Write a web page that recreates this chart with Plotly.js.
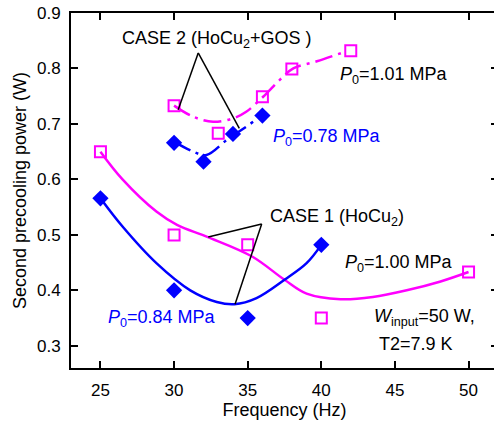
<!DOCTYPE html>
<html>
<head>
<meta charset="utf-8">
<script src="https://cdn.plot.ly/plotly-3.0.1.min.js"></script>
<style>
html, body { margin: 0; padding: 0; overflow: hidden; background: #fff; }
#chart { width: 500px; height: 423px; }
</style>
</head>
<body>
<div id="chart"></div>
<script>
// ---- Data ----
// CASE 1 (HoCu2)
const case1Freq = [25, 30, 35, 40, 50];
const case1HighP = [0.650, 0.500, 0.482, 0.350, 0.433];      // P0 = 1.00 MPa (open squares)
const case1LowFreq = [25, 30, 35, 40];
const case1LowP = [0.566, 0.400, 0.350, 0.482];               // P0 = 0.84 MPa (diamonds)

// CASE 2 (HoCu2 + GOS)
const case2HighFreq = [30, 33, 36, 38, 42];
const case2HighP = [0.733, 0.683, 0.749, 0.799, 0.832];       // P0 = 1.01 MPa
const case2LowFreq = [30, 32, 34, 36];
const case2LowP = [0.666, 0.632, 0.682, 0.715];               // P0 = 0.78 MPa

// Fitted curves
const fit1HighX = [25, 26.5, 28.8, 30.2, 32.3, 35.3, 37.5, 39.0, 41.3, 43.5, 45.8, 48.1, 50];
const fit1HighY = [0.650, 0.600, 0.542, 0.518, 0.496, 0.461, 0.419, 0.394, 0.384, 0.388, 0.400, 0.416, 0.433];
const fit1LowX = [25, 26.5, 28.8, 31.1, 32.9, 34.1, 35.6, 37.5, 39.0, 40];
const fit1LowY = [0.566, 0.515, 0.449, 0.400, 0.379, 0.375, 0.386, 0.419, 0.449, 0.482];
const fit2HighX = [30, 31.3, 32.65, 34.0, 34.9, 36.05, 37.2, 38.1, 39.7, 41.6];
const fit2HighY = [0.733, 0.713, 0.704, 0.710, 0.722, 0.749, 0.780, 0.800, 0.813, 0.830];
const fit2LowX = [30, 31.3, 32.2, 33.57, 34.9, 35.84];
const fit2LowY = [0.668, 0.650, 0.644, 0.671, 0.695, 0.713];

// Tick values
const xTicks = [25, 30, 35, 40, 45, 50];
const yTicks = [0.3, 0.4, 0.5, 0.6, 0.7, 0.8, 0.9];

// Pointer lines for the CASE labels: [apex, end1, end2]
const case2Pointer = [[31.64, 0.828], [30.28, 0.7255], [34.43, 0.692]];
const case1Pointer = [[35.95, 0.5197], [32.32, 0.496], [34.14, 0.375]];

const MAG = '#ff00ff';
const BLUE = '#0000ff';
const FONT = 'Liberation Sans, Arial, sans-serif';
const DASHDOT = '18px,6px,3px,6px';

const traces = [
  {x: fit1HighX, y: fit1HighY, mode: 'lines', line: {color: MAG, width: 2.5, shape: 'spline', smoothing: 1}},
  {x: fit1LowX, y: fit1LowY, mode: 'lines', line: {color: BLUE, width: 2.5, shape: 'spline', smoothing: 1}},
  {x: fit2HighX, y: fit2HighY, mode: 'lines', line: {color: MAG, width: 2.5, shape: 'spline', smoothing: 1, dash: DASHDOT}},
  {x: fit2LowX, y: fit2LowY, mode: 'lines', line: {color: BLUE, width: 2.5, shape: 'spline', smoothing: 1, dash: DASHDOT}},
  {x: case1Freq, y: case1HighP, mode: 'markers', marker: {symbol: 'square-open', size: 11, color: MAG, line: {color: MAG, width: 2}}},
  {x: case1LowFreq, y: case1LowP, mode: 'markers', marker: {symbol: 'diamond', size: 12.5, color: BLUE, line: {width: 0}}},
  {x: case2HighFreq, y: case2HighP, mode: 'markers', marker: {symbol: 'square-open', size: 11, color: MAG, line: {color: MAG, width: 2}}},
  {x: case2LowFreq, y: case2LowP, mode: 'markers', marker: {symbol: 'diamond', size: 12.5, color: BLUE, line: {width: 0}}}
];

function pointerShapes(p) {
  return [1, 2].map(i => ({
    type: 'line', xref: 'x', yref: 'y',
    x0: p[0][0], y0: p[0][1], x1: p[i][0], y1: p[i][1],
    line: {color: '#000', width: 1.5}
  }));
}

function ann(text, x, y, color) {
  return {text: text, x: x, y: y, xref: 'x', yref: 'y', showarrow: false,
          xanchor: 'left', yanchor: 'middle',
          font: {family: FONT, size: 18, color: color || '#000'}};
}

const layout = {
  width: 500, height: 423,
  margin: {l: 71, r: 2, t: 13, b: 55},
  paper_bgcolor: '#fff', plot_bgcolor: '#fff',
  showlegend: false,
  font: {family: FONT, size: 17, color: '#000'},
  xaxis: {
    range: [23, 52], tickvals: xTicks, ticktext: xTicks.map(String),
    ticks: 'inside', ticklen: 7, tickwidth: 1.5, tickcolor: '#000',
    showline: true, linewidth: 2, linecolor: '#000', mirror: 'ticks',
    showgrid: false, zeroline: false,
    tickfont: {family: FONT, size: 17}, ticklabelstandoff: 6,
    title: {text: 'Frequency (Hz)', font: {family: FONT, size: 18}, standoff: 4}
  },
  yaxis: {
    range: [0.26, 0.9], tickvals: yTicks, ticktext: yTicks.map(v => v.toFixed(1)),
    ticks: 'inside', ticklen: 7, tickwidth: 1.5, tickcolor: '#000',
    showline: true, linewidth: 2, linecolor: '#000', mirror: 'ticks',
    showgrid: false, zeroline: false,
    tickfont: {family: FONT, size: 17}, ticklabelstandoff: 5,
    title: {text: 'Second precooling power (W)', font: {family: FONT, size: 18}, standoff: 6}
  },
  shapes: pointerShapes(case2Pointer).concat(pointerShapes(case1Pointer)),
  annotations: [
    ann('CASE 2 (HoCu<sub>2</sub>+GOS )', 26.31, 0.852),
    ann('CASE 1 (HoCu<sub>2</sub>)', 36.4, 0.5305),
    ann('<i>P</i><sub>0</sub>=1.01 MPa', 41.15, 0.787),
    ann('<i>P</i><sub>0</sub>=0.78 MPa', 36.56, 0.675, BLUE),
    ann('<i>P</i><sub>0</sub>=1.00 MPa', 41.48, 0.449),
    ann('<i>P</i><sub>0</sub>=0.84 MPa', 25.41, 0.350, BLUE),
    ann('<i>W</i><sub>input</sub>=50 W,', 43.44, 0.351),
    ann('T2=7.9 K', 43.8, 0.303)
  ]
};

Plotly.newPlot('chart', traces, layout, {displayModeBar: false});
</script>
</body>
</html>
